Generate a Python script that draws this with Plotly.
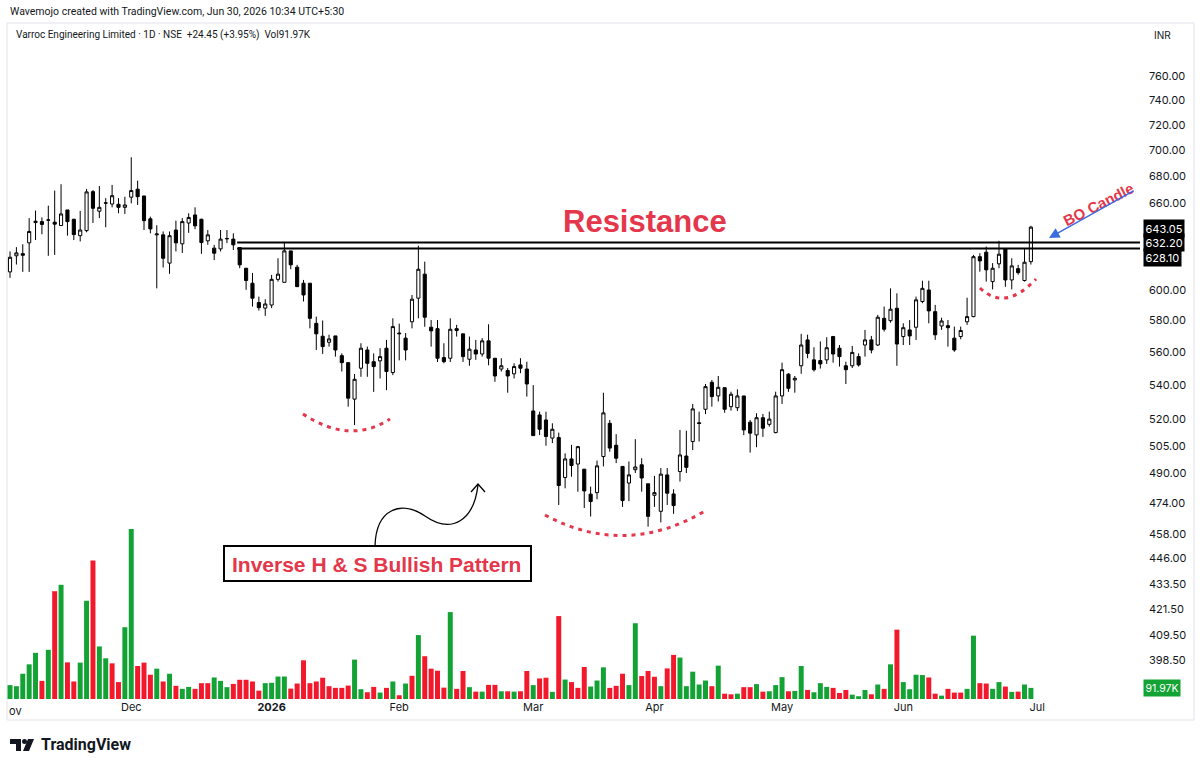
import math
import plotly.graph_objects as go

# ---------------- data ----------------
opens = [612, 623, 624.5, 632, 646.3, 647, 648, 646.6, 644.2, 655.4,
         648.7, 637, 640.6, 668.8, 654.5, 660.3, 659.7, 659.5, 657.3, 664.7,
         670.6, 665.6, 649, 637.6, 637.6, 618, 641, 631.3, 646, 651.8,
         648.7, 633.4, 628.3, 627.8, 634.8, 634.6, 628.7, 614.5, 604.4, 591.6,
         588, 590, 607, 605, 626.4, 615.2, 604.4, 604.4, 578.2, 570,
         566.2, 570.2, 557.9, 553.6, 531.7, 550.2, 561.4, 554.2, 554.7, 562.5,
         547.6, 572, 568.8, 579.2, 594.5, 610.5, 575.7, 574.8, 556.7, 556.3,
         574.8, 571.5, 555.7, 561.4, 558.9, 567.1, 556.3, 549.7, 548.8, 546.8,
         552.2, 549.7, 524.8, 522.5, 519.6, 509.3, 509.6, 487.6, 497.7, 494.9,
         492.1, 478.7, 479.5, 499, 517.7, 505.3, 493.6, 484.6, 491.8, 494.5,
         484.2, 478.1, 469.7, 489, 478.8, 490.8, 499.3, 507.4, 518, 525.8,
         541.7, 533.6, 538.5, 527.3, 526.7, 533.6, 518.3, 511.1, 520.9, 517.1,
         512.4, 533.6, 546.6, 543.1, 551.7, 567.7, 555.3, 554.9, 555.3, 569.8,
         562.5, 551.7, 551.7, 557.3, 564.5, 567.7, 564.5, 581.4, 579.9, 587.9,
         569.8, 574, 575.7, 592.3, 599.9, 585.7, 576.5, 576.7, 568.8, 569.8,
         579.2, 582.5, 622.4, 625.5, 605.5, 617.5, 627.8, 606.6, 614.2, 606.2,
         619]
highs = [626, 629, 631, 649.5, 655, 650, 658.5, 669.6, 674.3, 655.4,
         649, 654.7, 670.8, 670, 673, 664, 673.8, 664, 665, 694.7,
         677, 665.6, 650.6, 644.4, 640, 640, 647.7, 649.5, 653, 657.3,
         649, 641, 630.6, 641, 641, 638.7, 628.7, 614.5, 611.3, 595.5,
         593.8, 610, 621.3, 632, 626.4, 616.8, 606.6, 604.4, 582.5, 580,
         571, 570.2, 559.3, 553.6, 546.7, 565.6, 563.5, 559.3, 562.5, 567.7,
         581.4, 578, 572, 596.6, 630, 619, 580.3, 580.3, 565.6, 581.4,
         577.2, 571.5, 569.8, 567.7, 568.8, 577.6, 556.3, 556.3, 550.3, 553.2,
         556.3, 554.2, 540, 524.4, 524.4, 517.7, 512.4, 500.8, 505.5, 504.9,
         492.1, 482.7, 496.8, 535.5, 519.6, 511.5, 493.6, 496.3, 508.7, 498.1,
         484.2, 488.5, 492.7, 492.7, 481.3, 513.9, 513.5, 528.9, 524.4, 540.7,
         543.1, 545.5, 538.5, 536.1, 537.5, 533.6, 519.6, 523.5, 523.1, 524.4,
         536.1, 553.6, 547.2, 545.5, 571.5, 571, 563.1, 566.7, 569.4, 570.2,
         564.5, 554.2, 563.9, 559.3, 574, 570.2, 583.6, 589, 601, 597.7,
         578.2, 580.3, 595.5, 606.1, 606.1, 590.1, 581.8, 580.3, 576.1, 576.1,
         594.8, 623.6, 624.8, 629.4, 618, 633.4, 628, 621.3, 616.8, 627.6,
         644]
lows = [608, 617, 612, 612, 634, 638, 623, 623.6, 644, 637,
        634, 633, 639.4, 646, 649.5, 643, 657.3, 653, 652.5, 660.2,
        659, 641, 638.7, 601, 615, 610.7, 626, 625, 639, 641.6,
        624.4, 630.6, 620, 626, 631.8, 627, 614.5, 600, 589, 586.4,
        583, 588, 605.5, 605, 613.8, 602, 592.3, 575, 561.4, 559,
        563.5, 557.3, 548.2, 527.3, 516.7, 545, 545, 536, 544, 537,
        546, 555, 555, 575, 581.4, 576, 563.5, 554, 553.2, 554,
        569.8, 554, 551.7, 555.3, 557.3, 552, 542, 548.2, 535.5, 544,
        547.2, 533.2, 510.7, 511, 505, 506.5, 473, 481.8, 488, 480,
        471.4, 467, 476, 493.6, 501.7, 495.4, 472, 475, 490, 480,
        461.8, 472, 464, 473, 468.4, 485.4, 490, 502.6, 507.4, 523,
        527.3, 530.3, 523.8, 525, 524.8, 511, 501.2, 504.2, 510, 515.8,
        512, 528.9, 536, 535.5, 546.8, 556.3, 548.2, 550, 552.8, 553.6,
        551.2, 540.7, 550.3, 551.2, 557.3, 559.3, 563.9, 573, 578.6, 551.7,
        564.5, 564.5, 567.7, 591.2, 578.2, 567.7, 574, 563.5, 560.3, 568.1,
        577.2, 582.1, 612.2, 605.5, 600.3, 614.5, 602, 600.3, 610.1, 605.5,
        617]
closes = [622, 625, 623.4, 640, 647.3, 645, 648.2, 645.2, 652.5, 647,
          637.8, 641, 668.6, 656.6, 657.3, 660.5, 665.8, 657.3, 659, 669.6,
          665.1, 647.7, 641.8, 638.2, 621.3, 637, 632, 647, 650, 644,
          632.2, 637.6, 624.8, 634.6, 635, 630.6, 616.8, 606.2, 594.5, 588.3,
          590.7, 607, 610.5, 626.4, 616.8, 602.1, 596.6, 581.4, 571.5, 563.5,
          568.3, 561.4, 553.6, 532.3, 543.5, 562.5, 553.2, 551.2, 557.3, 548.2,
          576.1, 571.6, 561.4, 593.8, 613.8, 582.1, 573.4, 556.3, 554.2, 574.4,
          573.6, 557.3, 561.9, 558.9, 567.1, 556.3, 545.5, 551.7, 545.5, 551.2,
          550.2, 540.7, 510.7, 514.3, 510.2, 514.3, 483.3, 497.7, 494.1, 504.5,
          480.4, 474.8, 493.9, 523.7, 503.7, 498.1, 475.3, 489, 493.3, 487.3,
          467.1, 479.5, 489.4, 479.2, 472.7, 499.9, 493.1, 526, 517.6, 539.1,
          533.2, 538.7, 525.8, 534.6, 533.6, 513.9, 512.1, 520.9, 514.9, 520.1,
          533.6, 549.3, 538.1, 544.1, 564.5, 559.3, 549.3, 552.8, 562.8, 558.9,
          557.3, 549.3, 559.9, 552.2, 567.7, 561.4, 582.1, 574.4, 587.3, 565.1,
          575.4, 570.2, 593.4, 601, 586.2, 570.9, 579.7, 575.4, 561.4, 573.6,
          582.5, 622.4, 619.5, 613.4, 614.5, 624.1, 606.6, 616.1, 611.5, 618.6,
          643.05]
volume_k = [115, 106, 209, 287, 382, 150, 407, 892, 945, 303,
            145, 301, 813, 1145, 435, 337, 295, 140, 594, 1407,
            273, 301, 201, 251, 145, 209, 109, 84, 100, 84,
            131, 131, 178, 150, 98, 125, 159, 159, 145, 69,
            131, 134, 186, 186, 86, 128, 320, 131, 145, 176,
            106, 92, 92, 111, 326, 81, 56, 100, 53, 92,
            145, 31, 128, 192, 529, 354, 251, 234, 94, 719,
            84, 232, 98, 61, 61, 117, 117, 64, 64, 61,
            64, 232, 115, 170, 176, 59, 686, 161, 140, 92,
            265, 103, 153, 262, 92, 109, 209, 115, 627, 190,
            232, 184, 106, 253, 365, 343, 106, 226, 120, 153,
            106, 276, 44, 39, 44, 98, 98, 123, 61, 64,
            115, 181, 64, 67, 273, 75, 56, 131, 100, 92,
            50, 75, 36, 23, 75, 39, 120, 84, 287, 574,
            140, 81, 201, 198, 178, 44, 28, 84, 53, 53,
            84, 524, 131, 128, 84, 140, 103, 59, 61, 120,
            91.97]
volume_dir = list("GGGGGRGRGR" "RGGRGGRRGG" "RRRGRGRGGR" "RRGGGRRRRR"
                  "GGGGRRRRRR" "RRRRGGRRGR" "GRGRGRRRRG" "RRGRGRRGRG"
                  "RRGRRGRGRR" "RGGGRRRGGR" "RRGRRGGGGG" "RGRRGRRGRG"
                  "GGRGGRGGGR" "RRGGGRGRGR" "GGGGRRGRRR" "GGRRGGRGRG" "G")

month_labels = ["Dec", "<b>2026</b>", "Feb", "Mar", "Apr", "May", "Jun", "Jul"]
month_bar = [19, 41, 61, 82, 101, 121, 140, 161]
price_ticks = [760, 740, 720, 700, 680, 660, 600, 580, 560, 540, 520, 505, 490,
               474, 458, 446, 433.5, 421.5, 409.5, 398.5]
resistance_levels = [632.20, 628.10]
resistance_start_bar = 35.6
last_price = 643.05
last_volume_label = "91.97K"

# ---------------- layout helpers (pixel -> paper) ----------------
W, H = 1200, 769
ML, MR, MT, MB = 0, 60, 50, 70
PX0, PX1, PY0, PY1 = ML, W - MR, MT, H - MB


def fx(px):
    return (px - PX0) / (PX1 - PX0)


def fy(py):
    return (PY1 - py) / (PY1 - PY0)


def path_px(cmds):
    out = []
    for c in cmds:
        if isinstance(c, str):
            out.append(c)
        else:
            out.append(f"{fx(c[0]):.5f},{fy(c[1]):.5f}")
    return " ".join(out)


GREEN = "#13a335"
RED = "#f2192c"
ANN_RED = "#e4374b"
TXT = "#131722"
FONT = "Inter, Roboto, sans-serif"
HEAD_FONT = "Roboto, Inter, sans-serif"
BOLD_FONT = "Liberation Sans, Arial, sans-serif"

idx = list(range(len(opens)))

fig = go.Figure()
fig.add_trace(go.Bar(
    x=idx, y=volume_k, yaxis="y2", width=0.78,
    marker=dict(color=[GREEN if d == "G" else RED for d in volume_dir], line=dict(width=0)),
    showlegend=False, hoverinfo="skip"))
fig.add_trace(go.Candlestick(
    x=idx, open=opens, high=highs, low=lows, close=closes,
    increasing=dict(fillcolor="white", line=dict(color="black", width=1)),
    decreasing=dict(fillcolor="black", line=dict(color="black", width=1)),
    whiskerwidth=0, showlegend=False))

x_lo = -1.57
x_hi = 177.1
y_lo = math.log10(381.69)
y_hi = math.log10(782.16)

shapes = []
# frame
shapes.append(dict(type="rect", xref="paper", yref="paper",
                   x0=fx(7), x1=fx(1194), y0=fy(720), y1=fy(23),
                   line=dict(color="#e0e3eb", width=1), fillcolor="rgba(0,0,0,0)", layer="below"))
# resistance lines
for lv in resistance_levels:
    shapes.append(dict(type="line", xref="x", yref="y", x0=resistance_start_bar, x1=x_hi,
                       y0=lv, y1=lv, line=dict(color="black", width=2)))
# dotted arcs
for arc in ([(303, 414), (350, 445), (390, 419)],
            [(545, 515), (625, 558), (705, 511)],
            [(980, 288), (1005, 312), (1036, 279)]):
    shapes.append(dict(type="path", xref="paper", yref="paper",
                       path=path_px(["M", arc[0], "Q", arc[1], arc[2]]),
                       line=dict(color=ANN_RED, width=3, dash="4px,5px")))
# curvy arrow
shapes.append(dict(type="path", xref="paper", yref="paper",
                   path=path_px(["M", (375, 546), "C", (376, 508), (402, 500), (425, 516),
                                 "C", (452, 535), (474, 520), (478, 485)]),
                   line=dict(color="black", width=1.3)))
shapes.append(dict(type="path", xref="paper", yref="paper",
                   path=path_px(["M", (471, 492), "L", (478, 484), "L", (485, 492)]),
                   line=dict(color="black", width=1.3)))
# pattern label box
shapes.append(dict(type="rect", xref="paper", yref="paper",
                   x0=fx(224), x1=fx(531), y0=fy(581), y1=fy(546),
                   line=dict(color="black", width=2), fillcolor="white"))
# TradingView logo glyph
shapes.append(dict(type="path", xref="paper", yref="paper",
                   path=path_px(["M", (10, 739), "L", (21, 739), "L", (21, 751), "L", (16, 751),
                                 "L", (16, 744), "L", (10, 744), "Z"]),
                   line=dict(width=0), fillcolor=TXT))
shapes.append(dict(type="circle", xref="paper", yref="paper",
                   x0=fx(22), x1=fx(27), y0=fy(744), y1=fy(739),
                   line=dict(width=0), fillcolor=TXT))
shapes.append(dict(type="path", xref="paper", yref="paper",
                   path=path_px(["M", (28, 739), "L", (34, 739), "L", (29, 751), "L", (23, 751), "Z"]),
                   line=dict(width=0), fillcolor=TXT))

ann = []


def text(px, py, s, size=11, color=TXT, xanchor="left", bold=False, family=FONT, angle=0):
    ann.append(dict(xref="paper", yref="paper", x=fx(px), y=fy(py), text=(f"<b>{s}</b>" if bold else s),
                    showarrow=False, xanchor=xanchor, yanchor="middle", textangle=angle,
                    font=dict(size=size, color=color, family=family)))


text(8, 12, "Wavemojo created with TradingView.com, Jun 30, 2026 10:34 UTC+5:30", size=10.5,
     family=HEAD_FONT)
text(14, 35, "Varroc Engineering Limited · 1D · NSE  +24.45 (+3.95%)  Vol91.97K", size=10,
     family=HEAD_FONT)
text(1152, 35, "INR", size=10)
text(7, 711, "ov", size=11)
text(39, 745, "TradingView", size=16, bold=True, family=HEAD_FONT)
text(645, 221, "Resistance", size=31, color=ANN_RED, xanchor="center", bold=True, family=BOLD_FONT)
text(377, 564, "Inverse H &amp; S Bullish Pattern", size=21, color=ANN_RED, xanchor="center",
     bold=True, family=BOLD_FONT)
text(1098, 204, "BO Candle", size=15, color=ANN_RED, xanchor="center", bold=True,
     family=BOLD_FONT, angle=-27)

# blue arrow to BO candle
ann.append(dict(xref="paper", yref="paper", x=fx(1049), y=fy(238), ax=86, ay=-48,
                axref="pixel", ayref="pixel", text="", showarrow=True, arrowhead=2,
                arrowsize=1.4, arrowwidth=1.5, arrowcolor="#3a6be0"))

# price labels on axis
for val, shift in ((last_price, -1.5), (resistance_levels[0], 0), (resistance_levels[1], -8.6)):
    ann.append(dict(xref="paper", yref="y", x=fx(1143), y=math.log10(val), yshift=shift,
                    text=f"{val:.2f}", showarrow=False, xanchor="left", yanchor="middle",
                    bgcolor="black", borderpad=1.5,
                    font=dict(size=11, color="white", family=FONT)))
ann.append(dict(xref="paper", yref="y2", x=fx(1143), y=volume_k[-1],
                text=last_volume_label, showarrow=False, xanchor="left", yanchor="middle",
                bgcolor=GREEN, borderpad=1.5, font=dict(size=10.5, color="white", family=FONT)))

fig.update_layout(
    width=W, height=H, margin=dict(l=ML, r=MR, t=MT, b=MB),
    paper_bgcolor="white", plot_bgcolor="white",
    showlegend=False, shapes=shapes, annotations=ann,
    font=dict(family=FONT, color=TXT, size=11),
    xaxis=dict(range=[x_lo, x_hi], tickmode="array", tickvals=month_bar, ticktext=month_labels,
               showgrid=False, zeroline=False, showline=False, ticks="",
               rangeslider=dict(visible=False), tickfont=dict(size=11, color=TXT)),
    yaxis=dict(type="log", range=[y_lo, y_hi], side="right", tickmode="array",
               tickvals=price_ticks, ticktext=[f"{v:.2f}" for v in price_ticks],
               showgrid=False, zeroline=False, showline=False, ticks="", ticklabelstandoff=8,
               tickfont=dict(size=11, color=TXT)),
    yaxis2=dict(overlaying="y", range=[0, 5370], visible=False, fixedrange=True),
)

fig.write_html("out.html", config={"displayModeBar": False},
               post_script="document.body.style.margin='0';document.body.style.overflow='hidden';")
